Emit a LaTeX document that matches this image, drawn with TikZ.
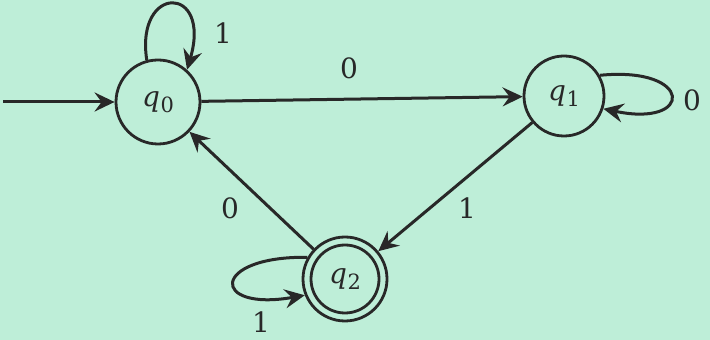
\documentclass[tikz,border=0pt]{standalone}
\usepackage{fontspec}
\setmainfont{DejaVu Serif}
\usetikzlibrary{arrows.meta}
\definecolor{paper}{RGB}{190,238,216}
\definecolor{ink}{RGB}{40,40,40}
\newcommand\stlab[1]{\textit{q}\kern0.5pt\raisebox{-0.22em}{\fontsize{21}{24}\selectfont #1}}
\begin{document}
\begin{tikzpicture}[x=1pt,y=1pt,
  state/.style={circle,draw=ink,line width=2.8pt,inner sep=0pt,text=ink,font=\fontsize{28}{34}\selectfont},
  edge/.style={draw=ink,line width=3pt,-{Stealth[length=20pt,width=19pt,inset=7pt]}},
  lbl/.style={text=ink,font=\fontsize{28}{34}\selectfont,inner sep=0pt}]
\fill[paper] (0,0) rectangle (710,340);
\useasboundingbox (0,0) rectangle (710,340);
\node[state,minimum size=84pt] (q0) at (158,238) {\stlab{0}};
\node[state,minimum size=80pt] (q1) at (564,244) {\stlab{1}};
\node[state,minimum size=84pt] (q2) at (345,61) {\stlab{2}};
\draw[ink,line width=2.8pt] (q2.center) circle (34pt);
\coordinate (s) at (3,238);
\draw[edge] (s) -- (q0);
\draw[edge] (q0) -- (q1);
\draw[edge] (q1) -- (q2);
\draw[edge] (q2) -- (q0);
\draw[edge] (q0.105) .. controls (135,356) and (212,356) .. (q0.48);
\draw[edge] (q1.30) .. controls (694,274) and (694,212) .. (q1.-18);
\draw[edge] (q2.150) .. controls (210,84) and (210,28) .. (q2.-158);
\node[lbl] (l01) at (349,272) {0};
\node[lbl] (l12) at (467,132) {1};
\node[lbl] (l20) at (230,132) {0};
\node[lbl] (l00) at (223,307) {1};
\node[lbl] (l11) at (692,240) {0};
\node[lbl] (l22) at (261,18) {1};
\end{tikzpicture}
\end{document}
